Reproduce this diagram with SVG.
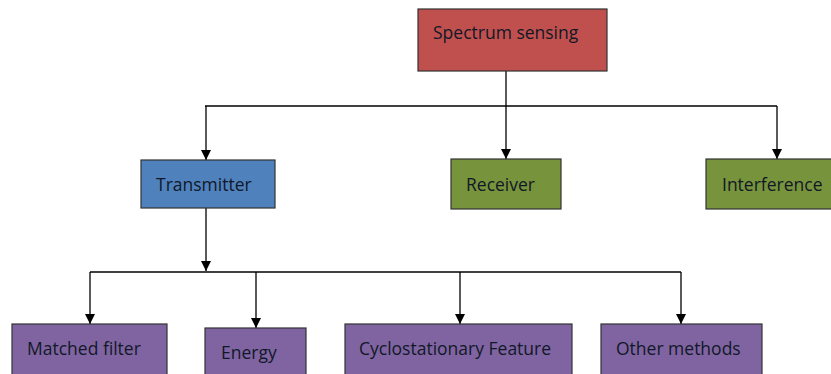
<svg xmlns="http://www.w3.org/2000/svg" width="831" height="374" viewBox="0 0 831 374">
<defs>
<marker id="ah" markerWidth="10" markerHeight="10" refX="10" refY="5" orient="auto" markerUnits="userSpaceOnUse">
<path d="M0,0 L10,5 L0,10 Z" fill="#000"/>
</marker>
<style>
.box{stroke:#333;stroke-width:1.2}
.lbl{font-family:"Open Sans","Liberation Sans",sans-serif;font-size:17.5px;fill:#111827}
.ln{stroke:#000;stroke-width:1.3;fill:none}
</style>
</defs>
<rect width="831" height="374" fill="#fff"/>
<g id="connectors">
<line class="ln" x1="506" y1="71" x2="506" y2="106"/>
<line class="ln" x1="205" y1="106" x2="777" y2="106"/>
<line class="ln" x1="206" y1="106" x2="206" y2="160" marker-end="url(#ah)"/>
<line class="ln" x1="506" y1="106" x2="506" y2="159" marker-end="url(#ah)"/>
<line class="ln" x1="777" y1="106" x2="777" y2="159" marker-end="url(#ah)"/>
<line class="ln" x1="206" y1="208" x2="206" y2="271" marker-end="url(#ah)"/>
<line class="ln" x1="90" y1="272" x2="681" y2="272"/>
<line class="ln" x1="90" y1="272" x2="90" y2="324" marker-end="url(#ah)"/>
<line class="ln" x1="256" y1="272" x2="256" y2="328" marker-end="url(#ah)"/>
<line class="ln" x1="460" y1="272" x2="460" y2="324" marker-end="url(#ah)"/>
<line class="ln" x1="681" y1="272" x2="681" y2="324" marker-end="url(#ah)"/>
</g>
<g id="spectrum">
<rect class="box" x="418" y="9" width="189" height="62" fill="#C0504D"/>
<text class="lbl" x="433" y="39">Spectrum sensing</text>
</g>
<g id="transmitter">
<rect class="box" x="141" y="160" width="134" height="48" fill="#4F81BD"/>
<text class="lbl" x="156" y="191">Transmitter</text>
</g>
<g id="receiver">
<rect class="box" x="451" y="159" width="110" height="50" fill="#77933C"/>
<text class="lbl" x="466" y="191">Receiver</text>
</g>
<g id="interference">
<rect class="box" x="706" y="159" width="130" height="50" fill="#77933C"/>
<text class="lbl" x="722" y="191">Interference</text>
</g>
<g id="matched">
<rect class="box" x="12" y="324" width="155" height="60" fill="#8064A2"/>
<text class="lbl" x="27" y="355">Matched filter</text>
</g>
<g id="energy">
<rect class="box" x="205" y="328" width="101" height="56" fill="#8064A2"/>
<text class="lbl" x="221" y="359">Energy</text>
</g>
<g id="cyclo">
<rect class="box" x="345" y="324" width="227" height="60" fill="#8064A2"/>
<text class="lbl" x="359" y="355">Cyclostationary Feature</text>
</g>
<g id="other">
<rect class="box" x="601" y="324" width="161" height="60" fill="#8064A2"/>
<text class="lbl" x="616" y="355">Other methods</text>
</g>
</svg>
